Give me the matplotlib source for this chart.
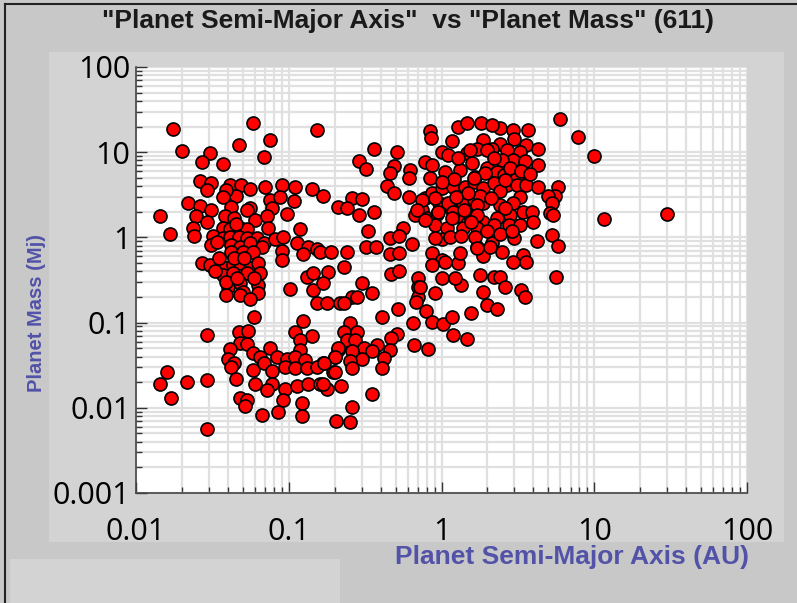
import matplotlib
matplotlib.use("Agg")
import matplotlib.pyplot as plt
import matplotlib.ticker as mticker
from matplotlib.patches import Rectangle
from matplotlib.lines import Line2D
import numpy as np

# semi-major axis (AU), planet mass (Mj)
semi_major_axis = [
    # hot / warm jupiters, left cluster
    0.0175, 0.058, 0.153, 0.075, 0.047, 0.020, 0.0305, 0.027, 0.069, 0.037,
    0.0262, 0.031, 0.029, 0.041, 0.049, 0.045, 0.039, 0.056, 0.070, 0.090,
    0.11, 0.142, 0.037, 0.022, 0.0262, 0.031, 0.042, 0.056, 0.075, 0.087,
    0.108, 0.078, 0.098, 0.0144, 0.0167, 0.0247, 0.029, 0.038, 0.044, 0.053,
    0.060, 0.072, 0.073, 0.0236, 0.024, 0.037, 0.041, 0.048, 0.053, 0.118,
    0.032, 0.037, 0.041, 0.047, 0.053, 0.062, 0.069, 0.081, 0.092, 0.031,
    0.034, 0.042, 0.048, 0.056, 0.067, 0.113, 0.133, 0.153, 0.042, 0.050,
    0.058, 0.090, 0.124, 0.090, 0.027, 0.0305, 0.037, 0.043, 0.048, 0.056,
    0.063, 0.037, 0.043, 0.053, 0.065, 0.040, 0.048, 0.050, 0.063, 0.063,
    0.039, 0.102, 0.131, 0.145, 0.145,
    0.035, 0.044, 0.051, 0.039, 0.046, 0.033, 0.059, 0.045,
    # lower left (neptunes / super earths)
    0.048, 0.056, 0.153, 0.178, 0.216, 0.059, 0.124, 0.029, 0.047, 0.054,
    0.110, 0.142, 0.048, 0.053, 0.118, 0.041, 0.058, 0.075, 0.118, 0.21,
    0.040, 0.044, 0.065, 0.084, 0.098, 0.110, 0.127, 0.167, 0.20, 0.042,
    0.058, 0.069, 0.078, 0.094, 0.110, 0.131, 0.153, 0.195, 0.0159, 0.0144,
    0.0216, 0.029, 0.017, 0.045, 0.060, 0.078, 0.094, 0.113, 0.133, 0.160,
    0.178, 0.048, 0.053, 0.072, 0.092, 0.052, 0.122, 0.067, 0.085, 0.122,
    0.205, 0.029,
    # middle
    0.84, 0.86, 1.28, 1.47, 1.81, 1.17, 1.87, 0.36, 0.51, 0.29,
    0.32, 0.49, 0.46, 0.62, 0.61, 1.0, 1.1, 1.47, 1.7, 0.78,
    0.87, 1.05, 0.84, 1.32, 1.58, 1.65, 1.98, 0.168, 0.44, 0.49,
    0.61, 0.78, 0.87, 1.01, 1.19, 1.42, 1.62, 1.87, 0.26, 0.30,
    0.21, 0.24, 0.29, 0.36, 0.67, 0.75, 0.97, 1.13, 1.38, 1.62,
    1.87, 0.8, 0.94, 1.26, 1.53, 1.87, 0.9, 1.08, 1.38, 1.7,
    0.33, 0.56, 0.46, 0.53, 0.64, 0.32, 0.37, 0.46, 0.53, 1.0,
    1.13, 0.87, 1.0, 1.28, 1.32, 1.7, 1.87, 0.16, 0.19, 0.24,
    0.23, 0.18, 0.168, 0.47, 0.53, 0.70, 0.30, 1.01, 1.35, 1.78,
    1.87, 0.26, 0.35, 0.70, 0.9,
    0.23, 0.28, 0.70, 0.68, 0.52, 0.41, 0.79, 0.65, 0.87, 1.03,
    1.17, 1.55, 1.98, 1.19, 1.47, 0.25, 0.23, 0.28, 0.51, 0.47,
    0.24, 0.27, 0.21, 0.31, 0.38, 0.66, 0.82, 0.46, 0.26, 0.35,
    0.20, 0.30, 0.42, 0.171, 0.25, 0.26, 0.41, 0.20, 0.168, 0.22,
    0.35, 0.26, 0.25,
    # right cluster
    5.95, 7.8, 10.0, 2.41, 2.95, 3.7, 3.0, 2.41, 3.6, 4.3,
    2.15, 2.7, 3.26, 2.95, 3.5, 4.3, 2.5, 2.0, 2.3, 2.55,
    3.1, 2.2, 2.7, 3.1, 3.6, 4.3, 5.8, 5.5, 4.95, 3.26,
    2.41, 2.95, 5.3, 3.4, 3.9, 5.1, 5.4, 2.8, 2.3,
    2.2, 2.75, 3.26, 3.95, 5.3, 5.8, 4.2, 2.15, 2.5, 3.0,
    3.4, 2.95, 3.6, 2.2, 2.41, 2.6, 3.3, 3.5, 2.3, 5.6,
    11.5, 30.0,
    2.15, 1.28, 1.53, 2.0, 2.2, 1.93, 1.62, 1.78, 0.75, 0.9,
    1.1, 1.7, 0.69, 1.19,
    0.78, 0.95, 1.17, 1.7, 0.9, 1.35, 1.65, 0.87, 1.05, 1.7,
    2.07, 0.72, 1.23,
    1.2, 1.5, 2.4, 2.1, 2.6, 1.4, 2.0, 2.4, 1.55, 2.9,
    1.0, 1.25, 2.8, 3.3, 2.6, 3.8,
]

planet_mass = [
    18.8, 22, 18, 14, 12, 10.3, 9.8, 7.7, 8.8, 7.3,
    4.6, 4.3, 3.6, 4.1, 4.1, 3.1, 3.6, 3.7, 3.9, 4.1,
    3.9, 3.7, 3.0, 2.5, 2.35, 2.1, 2.3, 2.2, 2.75, 3.0,
    2.7, 2.2, 1.9, 1.76, 1.1, 1.76, 1.5, 1.76, 1.7, 2.1,
    1.6, 1.76, 1.3, 1.3, 1.05, 1.3, 1.24, 1.3, 1.24, 1.27,
    1.05, 0.98, 1.0, 1.0, 0.98, 0.98, 0.86, 0.95, 1.0, 0.81,
    0.88, 0.81, 0.78, 0.86, 0.78, 0.86, 0.78, 0.73, 0.68, 0.68,
    0.68, 0.70, 0.63, 0.55, 0.50, 0.48, 0.45, 0.48, 0.50, 0.44,
    0.50, 0.36, 0.38, 0.38, 0.38, 0.26, 0.29, 0.23, 0.28, 0.22,
    0.21, 0.25, 0.34, 0.38, 0.24,
    0.58, 0.58, 0.58, 0.30, 0.33, 0.40, 0.33, 1.45,
    0.21, 0.19, 0.17, 0.17, 0.17, 0.115, 0.105, 0.072, 0.077, 0.079,
    0.077, 0.069, 0.058, 0.056, 0.063, 0.049, 0.044, 0.051, 0.048, 0.048,
    0.037, 0.034, 0.039, 0.040, 0.037, 0.039, 0.036, 0.034, 0.039, 0.030,
    0.028, 0.034, 0.027, 0.030, 0.029, 0.029, 0.030, 0.026, 0.026, 0.019,
    0.020, 0.021, 0.013, 0.0215, 0.019, 0.019, 0.0164, 0.018, 0.019, 0.019,
    0.0164, 0.013, 0.0125, 0.016, 0.0125, 0.0105, 0.0115, 0.0083, 0.0089, 0.0080,
    0.0070, 0.0057,
    17.7, 14.6, 20, 22, 22, 13.5, 14, 11, 10, 7.9,
    6.3, 6.9, 5.7, 6.2, 5.0, 10, 9.3, 9.8, 11, 7.7,
    7.1, 5.9, 5.0, 6.2, 7.5, 5.1, 6.2, 3.1, 4.0, 3.3,
    3.0, 2.9, 3.3, 3.8, 3.9, 3.9, 4.5, 3.8, 2.9, 2.8,
    2.3, 2.2, 1.83, 2.0, 1.83, 2.1, 2.55, 2.3, 2.55, 2.75,
    2.55, 1.7, 1.9, 1.76, 1.76, 1.5, 1.4, 1.3, 1.3, 1.3,
    1.2, 1.3, 0.98, 1.05, 0.84, 0.78, 0.78, 0.63, 0.66, 0.95,
    1.0, 0.66, 0.55, 0.5, 0.66, 0.78, 0.6, 0.68, 0.68, 0.68,
    0.45, 0.39, 0.29, 0.37, 0.40, 0.33, 0.29, 0.33, 0.28, 0.36,
    0.23, 0.20, 0.22, 0.26, 0.22,
    0.17, 0.20, 0.20, 0.175, 0.145, 0.116, 0.137, 0.10, 0.103, 0.095,
    0.116, 0.13, 0.16, 0.072, 0.064, 0.098, 0.077, 0.077, 0.074, 0.066,
    0.062, 0.063, 0.051, 0.051, 0.054, 0.054, 0.049, 0.048, 0.047, 0.046,
    0.040, 0.037, 0.038, 0.034, 0.035, 0.029, 0.029, 0.026, 0.019, 0.018,
    0.0145, 0.0102, 0.0068,
    24.5, 15, 9.0, 19, 18.3, 18.3, 14.3, 12.5, 12.2, 11,
    11, 10.7, 10, 8.1, 7.9, 7.1, 8.1, 6.5, 5.9, 5.4,
    5.1, 4.3, 4.1, 4.1, 4.1, 3.9, 3.9, 3.1, 3.1, 3.0,
    2.4, 2.55, 2.55, 2.0, 2.0, 1.95, 1.83, 1.83, 1.7,
    1.4, 1.4, 1.4, 1.5, 1.07, 0.8, 0.91, 0.86, 0.68, 0.98,
    0.62, 0.51, 0.51, 0.34, 0.34, 0.26, 0.24, 0.20, 0.145, 0.34,
    1.65, 1.9,
    21, 8.5, 10.7, 10.7, 8.5, 5.7, 5.0, 3.1, 2.75, 2.9,
    2.55, 2.4, 2.1, 2.0,
    1.6, 2.0, 1.7, 1.83, 0.98, 1.05, 1.0, 0.48, 0.51, 0.75,
    0.78, 0.26, 0.33,
    4.8, 3.3, 3.5, 2.9, 2.2, 2.1, 1.2, 1.1, 1.5, 1.2,
    4.5, 3.0, 6.5, 6.0, 4.7, 5.5,
]

title = '"Planet Semi-Major Axis"  vs "Planet Mass" (611)'
x_label = "Planet Semi-Major Axis (AU)"
y_label = "Planet Mass (Mj)"

W, H = 797, 603
fig = plt.figure(figsize=(W / 100, H / 100), dpi=100, facecolor="#c8c8c8")

# lighter panels behind the tick labels
fig.patches.append(Rectangle((49 / W, 1 - 542 / H), 735 / W, 490 / H,
                             transform=fig.transFigure, facecolor="#d3d3d3",
                             edgecolor="none", zorder=-5))
fig.patches.append(Rectangle((10 / W, 0), 330 / W, 44 / H,
                             transform=fig.transFigure, facecolor="#d3d3d3",
                             edgecolor="none", zorder=-5))
# outer frame
fig.lines.append(Line2D([5 / W, 5 / W], [0, 1 - 4 / H], transform=fig.transFigure,
                        color="#222222", lw=1.5, zorder=-4))
fig.lines.append(Line2D([5 / W, 1], [1 - 4 / H, 1 - 4 / H], transform=fig.transFigure,
                        color="#222222", lw=1.5, zorder=-4))

ax = fig.add_axes([136 / W, 1 - 493 / H, 611 / W, 426 / H])
ax.set_zorder(2)
ax.set_facecolor("white")
ax.scatter(semi_major_axis, planet_mass, s=88, c="#ff0000",
           edgecolors="black", linewidths=1.2, zorder=3)

ax.set_xscale("log")
ax.set_yscale("log")
ax.set_xlim(0.01, 100)
ax.set_ylim(0.001, 100)

ax.xaxis.set_major_formatter(mticker.FuncFormatter(lambda v, p: f"{v:g}"))
ax.yaxis.set_major_formatter(mticker.FuncFormatter(lambda v, p: f"{v:g}"))
ax.xaxis.set_minor_formatter(mticker.NullFormatter())
ax.yaxis.set_minor_formatter(mticker.NullFormatter())

ax.set_axisbelow(True)
ax.grid(True, which="both", color="#e0e0e0", lw=1.6)

for side in ["top", "right"]:
    ax.spines[side].set_visible(False)
for side in ["left", "bottom"]:
    ax.spines[side].set_color("#444444")
    ax.spines[side].set_linewidth(1.2)

ax.tick_params(which="major", direction="in", length=8, width=1, color="#333333",
               labelsize=22)
ax.tick_params(which="minor", direction="in", length=4.5, width=1, color="#333333")
ax.tick_params(axis="x", which="major", pad=17)
ax.tick_params(axis="y", which="major", pad=4)
for lab in ax.get_xticklabels() + ax.get_yticklabels():
    lab.set_family("Open Sans")

fig.text(408 / W, 1 - 21 / H, title, ha="center", va="center", fontsize=19,
         fontweight="bold", family="Liberation Sans", color="#1a1a1a")
fig.text(749 / W, 1 - 557 / H, x_label, ha="right", va="center", fontsize=19,
         fontweight="bold", family="Liberation Sans", color="#5252a8")
fig.text(37 / W, 1 - 313 / H, y_label, ha="center", va="center", rotation=90,
         fontsize=14.5, fontweight="bold", family="Liberation Sans", color="#5252a8")

fig.savefig("out.png", dpi=100, facecolor=fig.get_facecolor())
